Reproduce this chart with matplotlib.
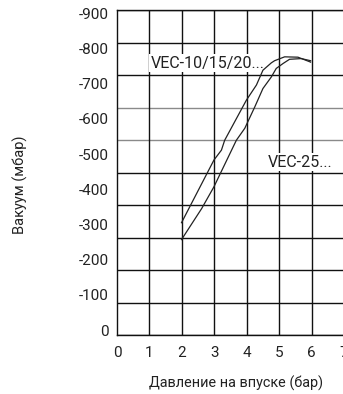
import matplotlib.pyplot as plt
import numpy as np

plt.rcParams['font.family'] = ['Roboto', 'DejaVu Sans']

# curve data (pressure in bar, vacuum in mbar)
vec10_x = [1.99, 2.99, 3.22, 3.32, 3.99, 4.30, 4.50, 4.76, 4.86, 5.17, 5.58, 5.97]
vec10_y = [-305, -483, -511, -539, -653, -696, -738, -759, -765, -776, -775, -761]
vec25_x = [1.99, 2.61, 2.99, 3.68, 3.94, 4.25, 4.50, 4.76, 4.91, 5.12, 5.32, 5.68, 5.97]
vec25_y = [-257, -345, -407, -539, -573, -634, -686, -719, -743, -757, -769, -771, -765]

x_ticks = [0, 1, 2, 3, 4, 5, 6, 7]
y_ticks = [0, -100, -200, -300, -400, -500, -600, -700, -800, -900]
y_labels = ["0", "-100", "-200", "-300", "-400", "-500", "-600", "-700", "-800", "-900"]

fig = plt.figure(figsize=(3.43, 3.94), dpi=100)
ax = fig.add_axes([117 / 343, 59 / 394, 227 / 343, 325 / 394])

ymin, ymax = 14, -909
ax.set_xlim(0, 7)
ax.set_ylim(ymin, ymax)

# grid
for i, yy in enumerate(np.linspace(ymin, ymax, 11)):
    col = "#8a8a8a" if i in (6, 7) else "#111111"
    ax.axhline(yy, color=col, lw=1.0, zorder=1)
for xx in range(1, 7):
    ax.axvline(xx, color="#111111", lw=1.0, zorder=1)

ax.plot(vec10_x, vec10_y, color="#222222", lw=0.9, zorder=3)
ax.plot(vec25_x, vec25_y, color="#222222", lw=0.9, zorder=3)

box = dict(facecolor="white", edgecolor="none", pad=1.0)
ax.text(1.04, -758, "VEC-10/15/20...", fontsize=11.5, va="center", ha="left",
        color="#222222", bbox=box, zorder=2)
ax.text(4.65, -477, "VEC-25...", fontsize=11.5, va="center", ha="left",
        color="#222222", bbox=box, zorder=2)

ax.set_xticks(x_ticks)
ax.set_yticks(y_ticks)
ax.set_yticklabels(y_labels)
ax.tick_params(length=0, labelsize=11, colors="#222222")
ax.tick_params(axis="y", pad=6)
ax.tick_params(axis="x", pad=8)

ax.spines["right"].set_visible(False)
for s in ["left", "top", "bottom"]:
    ax.spines[s].set_linewidth(1.0)
    ax.spines[s].set_color("#111111")

fig.text(236 / 343, 1 - 383 / 394, "Давление на впуске (бар)", fontsize=10.4,
         ha="center", va="center", color="#222222")
fig.text(20 / 343, 1 - 185 / 394, "Вакуум (мбар)", fontsize=10.5, rotation=90,
         ha="center", va="center", color="#222222")

fig.savefig("out.png", dpi=100)
